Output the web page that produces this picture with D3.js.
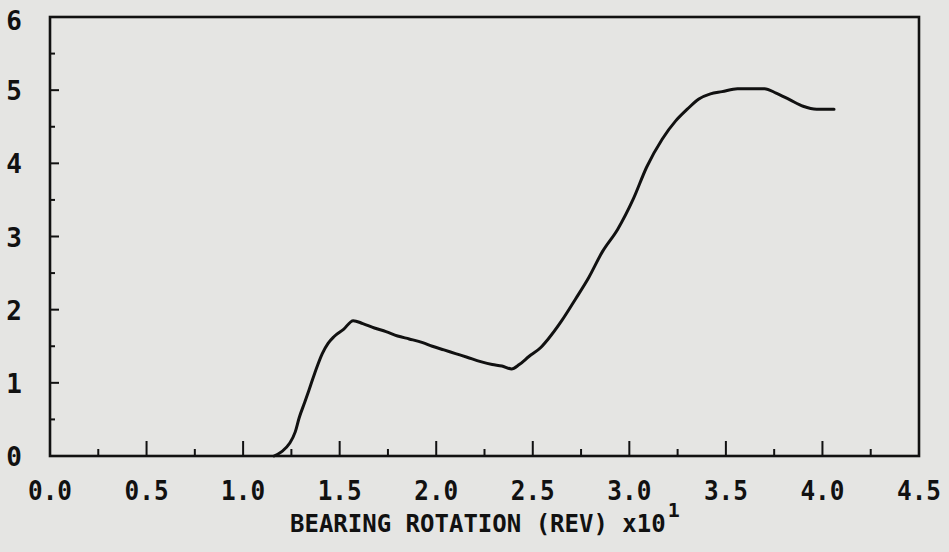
<!DOCTYPE html>
<html>
<head>
<meta charset="utf-8">
<script src="https://cdn.jsdelivr.net/npm/d3@7"></script>
<style>
  html, body { margin: 0; padding: 0; background: #e5e5e3; }
  svg { display: block; }
  text { font-family: "DejaVu Sans Mono", "Liberation Mono", monospace; font-weight: bold; fill: #111; }
</style>
</head>
<body>
<svg id="chart" width="949" height="552"></svg>
<script>
// Bearing rotation (x10^1 rev)
const rotation = [1.16, 1.20, 1.24, 1.27, 1.29, 1.32, 1.35, 1.38, 1.41, 1.44, 1.47, 1.52, 1.57,
  1.62, 1.68, 1.74, 1.80, 1.86, 1.93, 1.98, 2.04, 2.10, 2.16, 2.23, 2.29, 2.34, 2.39,
  2.43, 2.48, 2.54, 2.58, 2.65, 2.72, 2.79, 2.86, 2.94, 3.02, 3.09, 3.17, 3.24, 3.30,
  3.36, 3.42, 3.48, 3.56, 3.62, 3.70, 3.76, 3.83, 3.90, 3.97, 4.06];
// Measured value
const value = [0.00, 0.06, 0.17, 0.33, 0.52, 0.74, 0.97, 1.20, 1.40, 1.54, 1.63, 1.73, 1.85,
  1.81, 1.75, 1.70, 1.64, 1.60, 1.55, 1.50, 1.45, 1.40, 1.35, 1.29, 1.25, 1.23, 1.19,
  1.25, 1.36, 1.48, 1.60, 1.85, 2.14, 2.44, 2.79, 3.10, 3.51, 3.95, 4.33, 4.58, 4.74,
  4.88, 4.95, 4.98, 5.02, 5.02, 5.02, 4.96, 4.87, 4.78, 4.74, 4.74];
const xTickLabels = ["0.0","0.5","1.0","1.5","2.0","2.5","3.0","3.5","4.0","4.5"];
const yTickLabels = ["0","1","2","3","4","5","6"];
const xTitle = "BEARING ROTATION (REV) x10";
const xTitleExp = "1";

const svg = d3.select("#chart");
const L = 50, R = 919, T = 17, B = 456;

const x = d3.scaleLinear().domain([0, 4.5]).range([L, R]);
const y = d3.scaleLinear().domain([0, 6]).range([B, T]);

// frame
svg.append("rect").attr("x", L).attr("y", T).attr("width", R - L).attr("height", B - T)
  .attr("fill", "none").attr("stroke", "#111").attr("stroke-width", 2.6);

// x ticks (major inward, minor shorter)
const xMajor = xTickLabels.map(Number);
const xMinor = d3.range(0.25, 4.5, 0.5);
const gx = svg.append("g");
gx.selectAll("line.maj").data(xMajor.slice(1, -1)).join("line")
  .attr("x1", d => x(d)).attr("x2", d => x(d)).attr("y1", B).attr("y2", B - 15)
  .attr("stroke", "#111").attr("stroke-width", 2);
gx.selectAll("line.min").data(xMinor).join("line")
  .attr("x1", d => x(d)).attr("x2", d => x(d)).attr("y1", B).attr("y2", B - 7)
  .attr("stroke", "#111").attr("stroke-width", 2);
gx.selectAll("text").data(xTickLabels).join("text")
  .attr("x", d => x(+d)).attr("y", 500)
  .attr("text-anchor", "middle").attr("font-size", 26)
  .attr("textLength", 44).attr("lengthAdjust", "spacingAndGlyphs")
  .text(d => d);

// y ticks
const yMajor = yTickLabels.map(Number);
const yMinor = d3.range(0.5, 6, 1);
const gy = svg.append("g");
gy.selectAll("line.maj").data(yMajor.slice(1, -1)).join("line")
  .attr("x1", L).attr("x2", L + 9).attr("y1", d => y(d)).attr("y2", d => y(d))
  .attr("stroke", "#111").attr("stroke-width", 2);
gy.selectAll("line.min").data(yMinor).join("line")
  .attr("x1", L).attr("x2", L + 5).attr("y1", d => y(d)).attr("y2", d => y(d))
  .attr("stroke", "#111").attr("stroke-width", 2);
gy.selectAll("text").data(yTickLabels).join("text")
  .attr("x", 22).attr("y", d => Math.max(y(+d) + 10, 30))
  .attr("text-anchor", "end").attr("font-size", 26)
  .text(d => d);

// axis title with superscript exponent in one text element
const title = svg.append("text").attr("x", 290).attr("y", 532).attr("font-size", 24);
title.append("tspan").text(xTitle);
title.append("tspan").attr("dy", -15).attr("dx", 2).attr("font-size", 20).text(xTitleExp);

// curve
const pts = rotation.map((r, i) => [r, value[i]]);
svg.append("path").datum(pts)
  .attr("fill", "none").attr("stroke", "#111").attr("stroke-width", 3)
  .attr("stroke-linejoin", "round").attr("stroke-linecap", "round")
  .attr("d", d3.line().x(d => x(d[0])).y(d => y(d[1])).curve(d3.curveMonotoneX));
</script>
</body>
</html>
